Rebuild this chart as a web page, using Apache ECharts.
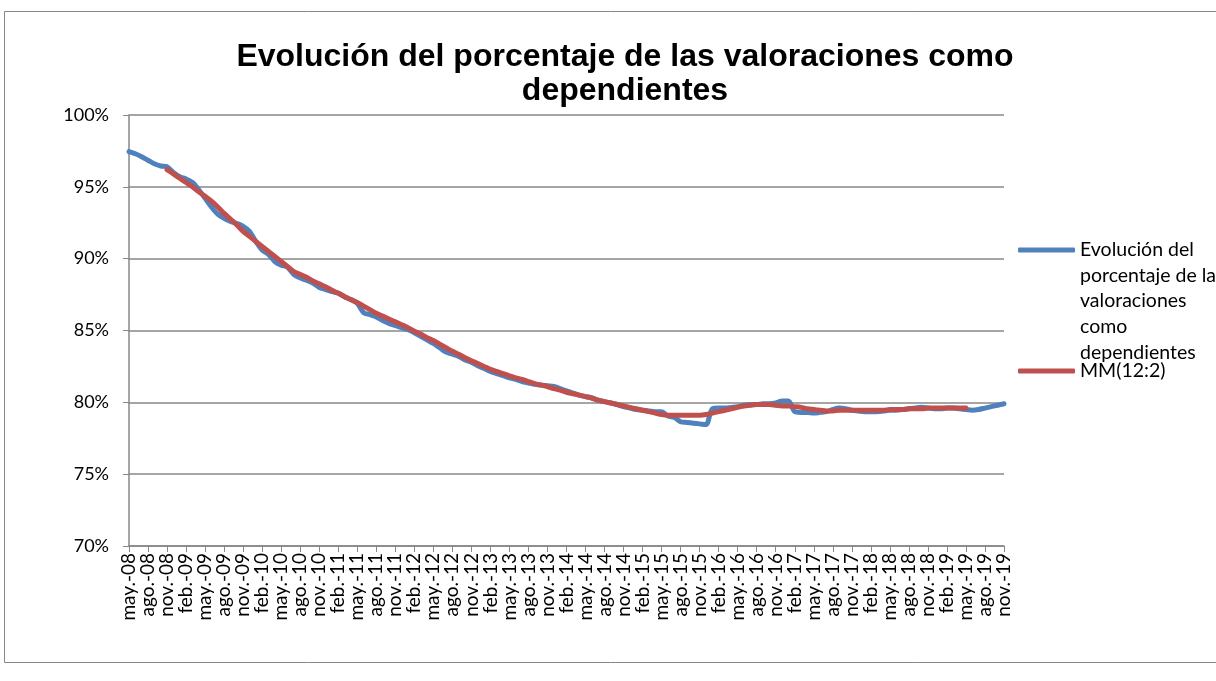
<!DOCTYPE html>
<html>
<head>
<meta charset="utf-8">
<script src="https://cdn.jsdelivr.net/npm/echarts@6/dist/echarts.min.js"></script>
<style>
  html, body { margin: 0; padding: 0; background: #fff; }
  #chart { width: 1216px; height: 681px; }
</style>
</head>
<body>
<div id="chart"></div>
<script>
// meses (etiquetas del eje x): may-08 .. nov-19
const monthNames = ["ene.", "feb.", "mar.", "abr.", "may.", "jun.", "jul.", "ago.", "sep.", "oct.", "nov.", "dic."];
const firstYear = 2008;
const firstMonth = 4; // mayo
const monthCount = 139;

// porcentaje de valoraciones como dependientes (%)
const serieValues = [
  97.45, 97.3, 97.1, 96.85, 96.6, 96.45, 96.4, 96.0, 95.7, 95.55,
  95.3, 94.8, 94.2, 93.6, 93.1, 92.8, 92.6, 92.45, 92.25, 91.9,
  91.2, 90.6, 90.3, 89.8, 89.55, 89.4, 88.9, 88.65, 88.5, 88.3,
  88.0, 87.85, 87.7, 87.6, 87.35, 87.15, 86.9, 86.25, 86.1, 85.95,
  85.7, 85.5, 85.35, 85.2, 85.05, 84.85, 84.6, 84.35, 84.1, 83.8,
  83.5, 83.35, 83.2, 82.95, 82.8, 82.55, 82.35, 82.15, 82.0, 81.85,
  81.7, 81.6, 81.45, 81.35, 81.25, 81.2, 81.15, 81.1, 80.95, 80.8,
  80.65, 80.5, 80.4, 80.3, 80.15, 80.05, 79.95, 79.85, 79.7, 79.6,
  79.5, 79.45, 79.4, 79.35, 79.35, 79.05, 78.95, 78.65, 78.6, 78.55,
  78.5, 78.45, 79.55, 79.6, 79.6, 79.65, 79.7, 79.8, 79.85, 79.85,
  79.9, 79.9, 79.95, 80.1, 80.1, 79.35, 79.3, 79.3, 79.25, 79.3,
  79.35, 79.5, 79.6, 79.55, 79.45, 79.4, 79.35, 79.35, 79.35, 79.4,
  79.45, 79.45, 79.5, 79.55, 79.6, 79.65, 79.6, 79.55, 79.55, 79.6,
  79.6, 79.55, 79.5, 79.45, 79.5, 79.6, 79.7, 79.8, 79.9
];

// media móvil MM(12:2), de nov-08 a may-19
const mmStart = 6;
const mmValues = [
  96.2, 95.9, 95.6, 95.3, 95.0, 94.65, 94.35, 94.0, 93.6, 93.15,
  92.75, 92.35, 91.9, 91.55, 91.2, 90.85, 90.5, 90.15, 89.8, 89.45,
  89.1, 88.9, 88.7, 88.45, 88.25, 88.05, 87.8, 87.6, 87.35, 87.15,
  86.95, 86.7, 86.45, 86.2, 86.0, 85.8, 85.6, 85.4, 85.2, 84.95,
  84.75, 84.5, 84.3, 84.05, 83.8, 83.55, 83.35, 83.1, 82.9, 82.7,
  82.5, 82.3, 82.15, 82.0, 81.85, 81.7, 81.6, 81.45, 81.3, 81.2,
  81.1, 80.95, 80.85, 80.7, 80.6, 80.5, 80.4, 80.3, 80.15, 80.05,
  79.95, 79.85, 79.75, 79.65, 79.55, 79.45, 79.35, 79.25, 79.15, 79.1,
  79.1, 79.1, 79.1, 79.1, 79.1, 79.15, 79.25, 79.35, 79.45, 79.55,
  79.65, 79.75, 79.8, 79.85, 79.85, 79.85, 79.8, 79.75, 79.75, 79.7,
  79.65, 79.55, 79.5, 79.45, 79.4, 79.4, 79.45, 79.45, 79.45, 79.45,
  79.45, 79.45, 79.45, 79.45, 79.5, 79.5, 79.5, 79.55, 79.55, 79.55,
  79.6, 79.6, 79.6, 79.6, 79.6, 79.6, 79.6
];

const yTicks = [70, 75, 80, 85, 90, 95, 100];

const serieName = "Evolución del porcentaje de las valoraciones como dependientes";
const mmName = "MM(12:2)";

let categories = [];
for (let i = 0; i < monthCount; i++) {
  let m = (firstMonth + i) % 12;
  let y = firstYear + Math.floor((firstMonth + i) / 12);
  categories.push(monthNames[m] + "-" + String(y).slice(2));
}

let mmData = categories.map((c, i) => {
  let k = i - mmStart;
  return k >= 0 && k < mmValues.length ? mmValues[k] : null;
});

const gris = "#878787";
const lineH = 25.6;

let myChart = echarts.init(document.getElementById("chart"));
let option = {
  animation: false,
  title: {
    text: "Evolución del porcentaje de las valoraciones como\ndependientes",
    left: 620,
    textAlign: "center",
    top: 35,
    textStyle: {
      fontFamily: "Liberation Sans",
      fontWeight: "bold",
      fontSize: 32,
      lineHeight: 34,
      color: "#000"
    }
  },
  graphic: [
    {
      type: "rect",
      shape: { x: 4.5, y: 11.5, width: 1230, height: 651 },
      style: { fill: null, stroke: gris, lineWidth: 1 },
      silent: true
    }
  ],
  legend: [
    {
      // el texto de varias líneas arranca a la altura del icono
      orient: "vertical",
      left: 1013,
      top: 245 - 4.5 * lineH,
      data: [serieName],
      icon: "roundRect",
      itemWidth: 57,
      itemHeight: 5,
      formatter: () => "\n\n\n\nEvolución del\nporcentaje de las\nvaloraciones\ncomo\ndependientes",
      textStyle: {
        fontFamily: "Lato",
        fontSize: 19.5,
        lineHeight: lineH,
        color: "#000"
      }
    },
    {
      orient: "vertical",
      left: 1013,
      top: 366 - lineH / 2,
      data: [mmName],
      icon: "roundRect",
      itemWidth: 57,
      itemHeight: 5,
      textStyle: {
        fontFamily: "Lato",
        fontSize: 19.5,
        lineHeight: lineH,
        color: "#000"
      }
    }
  ],
  grid: {
    left: 129,
    right: 212,
    top: 115,
    bottom: 135,
    containLabel: false
  },
  xAxis: {
    type: "category",
    data: categories,
    boundaryGap: false,
    axisLine: { lineStyle: { color: gris, width: 1.5 } },
    axisTick: {
      interval: 2,
      length: 6,
      lineStyle: { color: gris, width: 1 }
    },
    axisLabel: {
      interval: 2,
      rotate: 90,
      margin: 7,
      fontFamily: "Lato",
      fontSize: 19,
      color: "#000"
    }
  },
  yAxis: {
    type: "value",
    min: yTicks[0],
    max: yTicks[yTicks.length - 1],
    interval: 5,
    axisLine: { show: true, lineStyle: { color: gris, width: 1.5 } },
    axisTick: { show: true, length: 6, lineStyle: { color: gris } },
    splitLine: { lineStyle: { color: gris, width: 1.5 } },
    axisLabel: {
      formatter: "{value}%",
      margin: 20,
      fontFamily: "Lato",
      fontSize: 18,
      color: "#000"
    }
  },
  series: [
    {
      name: serieName,
      type: "line",
      data: serieValues,
      symbol: "none",
      smooth: 0.3,
      lineStyle: { color: "#4F81BD", width: 5, cap: "round", join: "round" },
      itemStyle: { color: "#4F81BD" }
    },
    {
      name: mmName,
      type: "line",
      data: mmData,
      symbol: "none",
      smooth: 0.3,
      lineStyle: { color: "#C0504D", width: 5, cap: "round", join: "round" },
      itemStyle: { color: "#C0504D" }
    }
  ]
};
myChart.setOption(option);
</script>
</body>
</html>
